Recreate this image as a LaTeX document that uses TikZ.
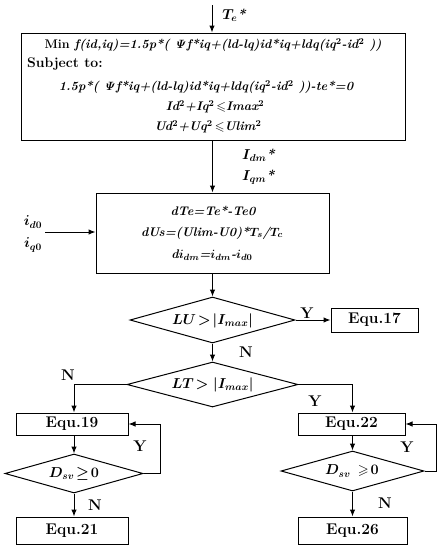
\documentclass[tikz,border=0pt]{standalone}
\usepackage{amssymb}
\usetikzlibrary{shapes.geometric,arrows.meta}
\begin{document}
\begin{tikzpicture}[x=1pt,y=-1pt]
  \tikzset{box/.style={draw,line width=1pt,inner sep=0pt},
    cond/.style={diamond,draw,line width=1pt,inner sep=0pt},
    txt/.style={inner sep=0pt,font=\fontsize{12.5}{14}\selectfont\bfseries\itshape\boldmath},
    tag/.style={inner sep=0pt,font=\fontsize{15.5}{17}\selectfont\bfseries\boldmath},
    flow/.style={line width=1pt,-{Latex[length=7pt,width=5.5pt]}}}
  \useasboundingbox (0,0) rectangle (446,550);
  % blocks
  \node[box,minimum width=384pt,minimum height=107pt] (opt) at (213,86.5) {};
  \node[box,minimum width=233pt,minimum height=80pt] (calc) at (212.5,233) {};
  \node[cond,minimum width=165pt,minimum height=46pt] (lu) at (212.5,320) {};
  \node[box,minimum width=87pt,minimum height=24pt] (e17) at (374.5,320) {};
  \node[cond,minimum width=171pt,minimum height=45pt] (lt) at (212.5,384.5) {};
  \node[box,minimum width=112pt,minimum height=22pt] (e19) at (72,424) {};
  \node[cond,minimum width=138pt,minimum height=39pt] (ds1) at (74,473.5) {};
  \node[box,minimum width=112pt,minimum height=27pt] (e21) at (72,530.5) {};
  \node[box,minimum width=107pt,minimum height=22pt] (e22) at (351.5,424) {};
  \node[cond,minimum width=143pt,minimum height=40pt] (ds2) at (352.5,471) {};
  \node[box,minimum width=109pt,minimum height=27pt] (e26) at (352.5,530.5) {};
  % texts
  \node[txt,font=\fontsize{14}{16}\selectfont\bfseries\itshape\boldmath] (te) at (234,15) {$T_e$*};
  \node[txt] (l1) at (213,45) {\upshape Min \itshape f(id,iq)=1.5p*( $\mathit{\Psi}$f*iq+(ld-lq)id*iq+ldq(iq$^2$-id$^2$ ))};
  \node[txt,anchor=west,font=\fontsize{14}{16}\selectfont\bfseries] (l2) at (27,64) {Subject to:};
  \node[txt] (l3) at (206,87) {1.5p*( $\mathit{\Psi}$f*iq+(ld-lq)id*iq+ldq(iq$^2$-id$^2$ ))-te*=0};
  \node[txt] (l4) at (215,107) {Id$^2$+Iq$^2$\,$\leqslant$Imax$^2$};
  \node[txt] (l5) at (208,127) {Ud$^2$+Uq$^2$\,$\leqslant$Ulim$^2$};
  \node[txt,anchor=west,font=\fontsize{14}{16}\selectfont\bfseries\itshape\boldmath] (idm) at (242,155) {$I_{dm}$*};
  \node[txt,anchor=west,font=\fontsize{14}{16}\selectfont\bfseries\itshape\boldmath] (iqm) at (242,177) {$I_{qm}$*};
  \node[txt] (c1) at (213,211) {dTe=Te*-Te0};
  \node[txt] (c2) at (212,233) {dUs=(Ulim-U0)*$T_s$/$T_c$};
  \node[txt] (c3) at (212,255) {d$i_{dm}$=$i_{dm}$-$i_{d0}$};
  \node[txt,font=\fontsize{14}{16}\selectfont\bfseries\itshape\boldmath] (id0) at (33,222) {$i_{d0}$};
  \node[txt,font=\fontsize{14}{16}\selectfont\bfseries\itshape\boldmath] (iq0) at (33,245) {$i_{q0}$};
  \node[txt,font=\fontsize{14}{16}\selectfont\bfseries\itshape\boldmath] (lut) at (212.5,321) {$LU\!>\!|I_{max}|$};
  \node[txt,font=\fontsize{14}{16}\selectfont\bfseries\itshape\boldmath] (ltt) at (212.5,385) {$LT\!>|I_{max}|$};
  \node[tag] (t17) at (e17) {Equ.17};
  \node[tag] (t19) at (e19) {Equ.19};
  \node[tag] (t21) at (e21) {Equ.21};
  \node[tag] (t22) at (e22) {Equ.22};
  \node[tag] (t26) at (e26) {Equ.26};
  \node[txt,font=\fontsize{14}{16}\selectfont\bfseries\itshape\boldmath] (ds1t) at (74,474) {$D_{sv}\!\geq\!0$};
  \node[txt,font=\fontsize{14}{16}\selectfont\bfseries\itshape\boldmath] (ds2t) at (352,471) {$D_{sv}\,\geqslant\!0$};
  \node[tag] (y1) at (307,313) {Y};
  \node[tag] (n1) at (246,352) {N};
  \node[tag] (n2) at (68,375) {N};
  \node[tag] (y2) at (315,401) {Y};
  \node[tag] (y3) at (140,446) {Y};
  \node[tag] (n3) at (95,505) {N};
  \node[tag] (y4) at (407,447) {Y};
  \node[tag] (n4) at (385,503) {N};
  % connectors
  \coordinate (start) at (212,5);
  \coordinate (in) at (45,232);
  \draw[flow] (start) -- (start |- opt.north);
  \draw[flow] (opt.south -| calc.north) -- (calc.north);
  \draw[flow] (in) -- (in -| calc.west);
  \draw[flow] (calc.south) -- (lu.north);
  \draw[flow] (lu.east) -- (e17.west);
  \draw[flow] (lu.south) -- (lt.north);
  \draw[flow] (lt.west) -| (ds1.north |- e19.north);
  \draw[flow] (lt.east) -| (ds2.north |- e22.north);
  \draw[flow] (ds1.north |- e19.south) -- (ds1.north);
  \draw[flow] (ds2.north |- e22.south) -- (ds2.north);
  \draw[flow] (ds1.east) -- ++(17,0) |- (e19.east);
  \draw[flow] (ds2.east) -- ++(12,0) |- (e22.east);
  \draw[flow] (ds1.south) -- (ds1.south |- e21.north);
  \draw[flow] (ds2.south) -- (ds2.south |- e26.north);
\end{tikzpicture}
\end{document}
